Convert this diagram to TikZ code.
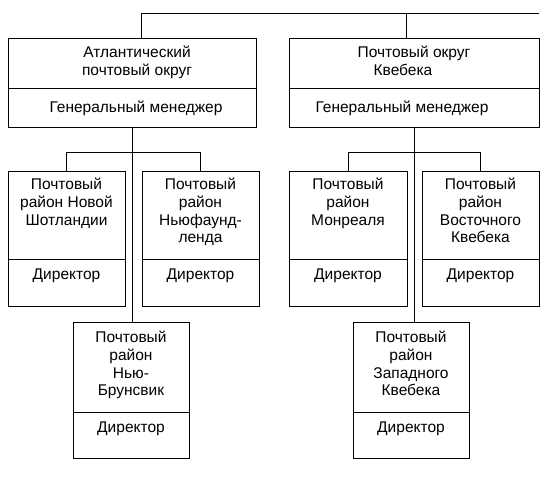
\documentclass[tikz,border=0pt]{standalone}
\usepackage{fontspec}
\setmainfont{Liberation Sans}
\usetikzlibrary{positioning}
\newcommand{\unitcell}[4]{\begin{minipage}[c][#2][t]{#1}\centering\vspace*{#3}#4\end{minipage}}

\begin{document}
\begin{tikzpicture}[x=1pt, y=-1pt,
					unitbox/.style={draw=black, line width=0.9pt, inner sep=0pt, outer sep=0pt, anchor=north, font=\fontsize{15.5}{17.8}\selectfont},
					link/.style={draw=black, line width=0.9pt},
					]
					\useasboundingbox (0,0) rectangle (551,477);
					%Postal districts
					\node[unitbox]                  (atl)   at (132,38)  {\unitcell{248pt}{50pt}{8pt}{\hspace*{10pt}Атлантический\\\hspace*{10pt}почтовый округ}};
					\node[unitbox, below=0pt of atl] (atlgm)          {\unitcell{248pt}{39pt}{12.5pt}{\hspace*{8pt}Генеральный менеджер}};
					\node[unitbox]                  (que)   at (414,38)  {\unitcell{250pt}{50pt}{8pt}{Почтовый округ\hspace*{22pt}\\Квебека\hspace*{22pt}}};
					\node[unitbox, below=0pt of que] (quegm)          {\unitcell{250pt}{39pt}{12.5pt}{Генеральный менеджер\hspace*{24pt}}};

					%Postal regions
					\node[unitbox]                  (nsc)   at (66.5,171)  {\unitcell{117pt}{88pt}{7pt}{Почтовый\\район Новой\\Шотландии}};
					\node[unitbox, below=0pt of nsc] (nscd)           {\unitcell{117pt}{47pt}{10pt}{Директор}};
					\node[unitbox]                  (nfl)   at (200.5,171) {\unitcell{117pt}{88pt}{7pt}{Почтовый\\район\\Ньюфаунд-\\ленда}};
					\node[unitbox, below=0pt of nfl] (nfld)           {\unitcell{117pt}{47pt}{10pt}{Директор}};
					\node[unitbox]                  (mtl)   at (348,171)   {\unitcell{118pt}{88pt}{7pt}{Почтовый\\район\\Монреаля}};
					\node[unitbox, below=0pt of mtl] (mtld)           {\unitcell{118pt}{47pt}{10pt}{Директор}};
					\node[unitbox]                  (eqc)   at (480.5,171) {\unitcell{117pt}{88pt}{7pt}{Почтовый\\район\\Восточного\\Квебека}};
					\node[unitbox, below=0pt of eqc] (eqcd)           {\unitcell{117pt}{47pt}{10pt}{Директор}};
					\node[unitbox]                  (nbr)   at (131,322)   {\unitcell{116pt}{90pt}{9pt}{Почтовый\\район\\Нью-\\Брунсвик}};
					\node[unitbox, below=0pt of nbr] (nbrd)           {\unitcell{116pt}{46pt}{10pt}{Директор}};
					\node[unitbox]                  (wqc)   at (411,322)   {\unitcell{116pt}{90pt}{9pt}{Почтовый\\район\\Западного\\Квебека}};
					\node[unitbox, below=0pt of wqc] (wqcd)           {\unitcell{116pt}{46pt}{10pt}{Директор}};

					%Lines
					\coordinate (topend) at (539,13);
					\draw[link] ([xshift=9pt]atl.north) |- (topend);
					\draw[link] ([xshift=-8pt]que.north) -- ++(0,-25);

					\draw[link] (atlgm.south) -- (atlgm.south |- nbr.north);
					\draw[link] (nsc.north) -- ++(0,-19) -| (nfl.north);
					\draw[link] (quegm.south) -- (quegm.south |- wqc.north);
					\draw[link] (mtl.north) -- ++(0,-19) -| (eqc.north);
				\end{tikzpicture}
\end{document}
